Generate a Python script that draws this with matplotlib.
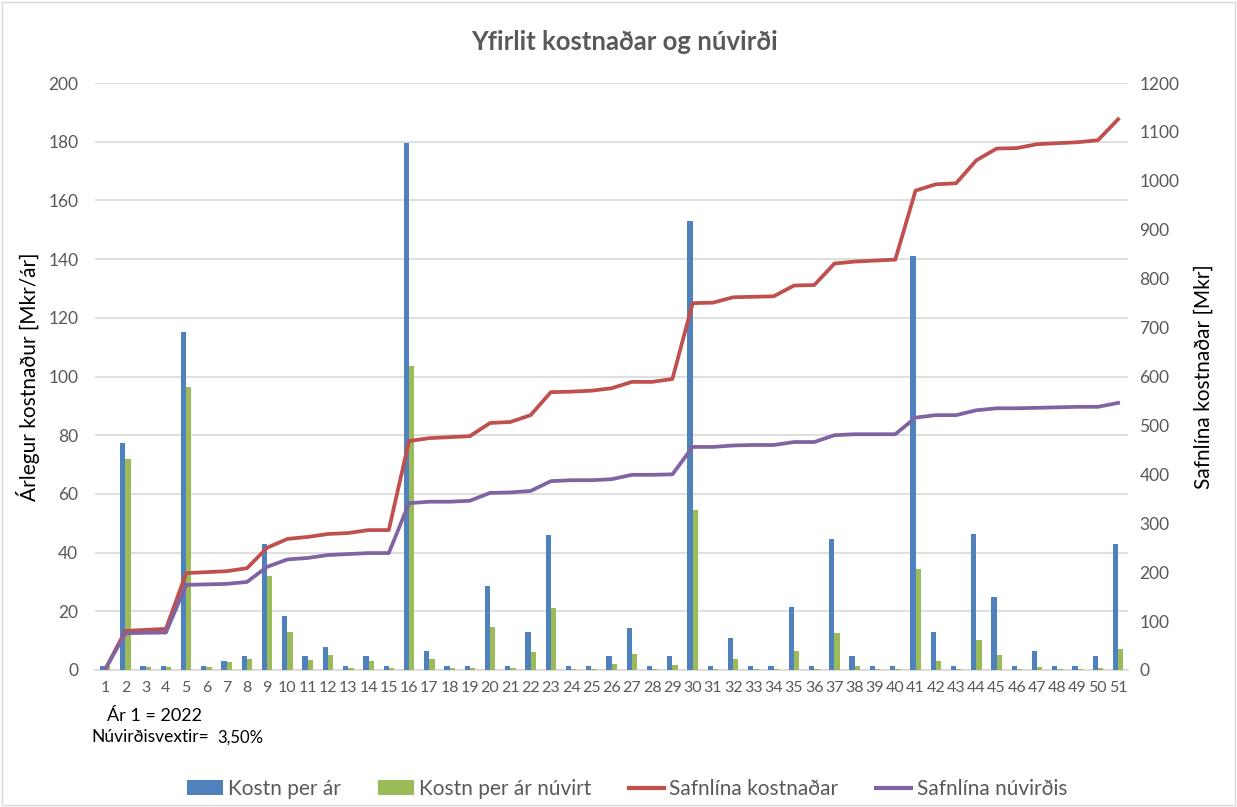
import matplotlib
matplotlib.use("Agg")
import matplotlib.pyplot as plt
from matplotlib.patches import Rectangle
from matplotlib.lines import Line2D
from matplotlib.patches import Patch

plt.rcParams['font.family'] = ['Lato', 'DejaVu Sans']

years = list(range(1, 52))
kostn = [1.2, 77.5, 1.2, 1.2, 115, 1.2, 3.1, 4.6, 43, 18.5,
         4.6, 7.7, 1.2, 4.6, 1.2, 179.5, 6.3, 1.2, 1.2, 28.5,
         1.2, 13, 46, 1.2, 1.2, 4.6, 14.4, 1.2, 4.6, 153,
         1.2, 11, 1.2, 1.2, 21.5, 1.2, 44.5, 4.6, 1.2, 1.2,
         141, 13, 1.2, 46.2, 25, 1.2, 6.3, 1.2, 1.2, 4.6, 43]
kostn_nuv = [1.2, 72, 1.1, 1.0, 96.5, 1.0, 2.6, 3.7, 32, 13,
             3.3, 5, 0.8, 3, 0.8, 103.5, 3.6, 0.7, 0.7, 14.5,
             0.6, 6, 21, 0.5, 0.5, 2, 5.5, 0.5, 1.7, 54.5,
             0.4, 3.6, 0.4, 0.3, 6.3, 0.3, 12.5, 1.2, 0.3, 0.3,
             34.3, 3, 0.3, 10.2, 5.2, 0.3, 1.1, 0.2, 0.2, 0.8, 7.3]
safn_kostn = [1, 80, 82, 84, 198, 200, 202, 208, 250, 268,
              272, 278, 280, 286, 286, 468, 474, 476, 478, 505,
              507, 521, 568, 569, 571, 576, 589, 589, 595, 750,
              751, 762, 763, 764, 786, 787, 831, 835, 837, 839,
              980, 993, 995, 1042, 1066, 1067, 1075, 1077, 1079, 1083, 1126]
safn_nuv = [1, 75, 76, 76.5, 174, 175, 176, 180, 211, 226,
            229, 235, 237, 239, 239, 341, 344, 344, 346, 362,
            363, 366, 386, 388, 388, 390, 399, 399, 400, 456,
            456, 459, 460, 460, 466, 466, 480, 482, 482, 482,
            516, 521, 521, 531, 535, 535, 536, 537, 538, 538, 546]

c_blue = '#4f81bd'
c_green = '#9bbb59'
c_red = '#c0504d'
c_purple = '#8064a2'
gray = '#595959'

fig = plt.figure(figsize=(12.37, 8.07), dpi=100)
fig.patches.append(Rectangle((0.002, 0.002), 0.996, 0.996, transform=fig.transFigure,
                             fill=False, edgecolor='#d9d9d9', linewidth=1))
ax = fig.add_axes([0.0768, 0.1698, 0.8353, 0.7273])
ax2 = ax.twinx()

w = 0.26
xb = [x - w / 2 for x in years]
xg = [x + w / 2 for x in years]
ax.bar(xb, kostn, width=w, color=c_blue, zorder=3)
ax.bar(xg, kostn_nuv, width=w, color=c_green, zorder=3)

ax2.plot(years, safn_kostn, color=c_red, lw=2.7, zorder=4, solid_joinstyle='round')
ax2.plot(years, safn_nuv, color=c_purple, lw=2.7, zorder=4, solid_joinstyle='round')

ax.set_xlim(0.5, 51.5)
ax.set_ylim(0, 200)
ax2.set_ylim(0, 1200)
ax.set_yticks(range(0, 201, 20))
ax2.set_yticks(range(0, 1201, 100))
ax.set_xticks(years)
ax.set_xticklabels([str(y) for y in years], fontsize=11.5, color=gray)
ax.tick_params(axis='y', labelsize=12.5, labelcolor=gray, length=0, pad=12)
ax2.tick_params(axis='y', labelsize=12.5, labelcolor=gray, length=0, pad=8)
ax.tick_params(axis='x', length=0, pad=8)
ax.grid(axis='y', color='#d9d9d9', lw=1.2, zorder=0)
ax.set_axisbelow(True)
for a in (ax, ax2):
    for s in a.spines.values():
        s.set_visible(False)
ax.spines['bottom'].set_visible(True)
ax.spines['bottom'].set_color('#d9d9d9')
ax.spines['bottom'].set_linewidth(1.2)

ax.set_ylabel('Árlegur kostnaður [Mkr/ár]', fontsize=15, color='black', labelpad=6)
ax2.set_ylabel('Safnlína kostnaðar [Mkr]', fontsize=15, color='black', labelpad=10)

fig.text(0.505, 0.948, 'Yfirlit kostnaðar og núvirði', ha='center', va='center',
         fontsize=18.5, fontweight='bold', color=gray)

fig.text(107 / 1237, 1 - 716 / 807, 'Ár 1 = 2022', ha='left', va='center', fontsize=13, color='black')
fig.text(91 / 1237, 1 - 737 / 807, 'Núvirðisvextir=', ha='left', va='center', fontsize=12.5, color='black')
fig.text(217 / 1237, 1 - 738 / 807, '3,50%', ha='left', va='center', fontsize=12, color='black')

handles = [Patch(facecolor=c_blue), Patch(facecolor=c_green),
           Line2D([], [], color=c_red, lw=3), Line2D([], [], color=c_purple, lw=3)]
labels = ['Kostn per ár', 'Kostn per ár núvirt', 'Safnlína kostnaðar', 'Safnlína núvirðis']
fig.legend(handles, labels, loc='center', bbox_to_anchor=(0.507, 1 - 789 / 807), ncol=4,
           frameon=False, fontsize=15, labelcolor=gray, handlelength=1.7, handletextpad=0.25,
           columnspacing=1.8)

fig.savefig('out.png', dpi=100)
